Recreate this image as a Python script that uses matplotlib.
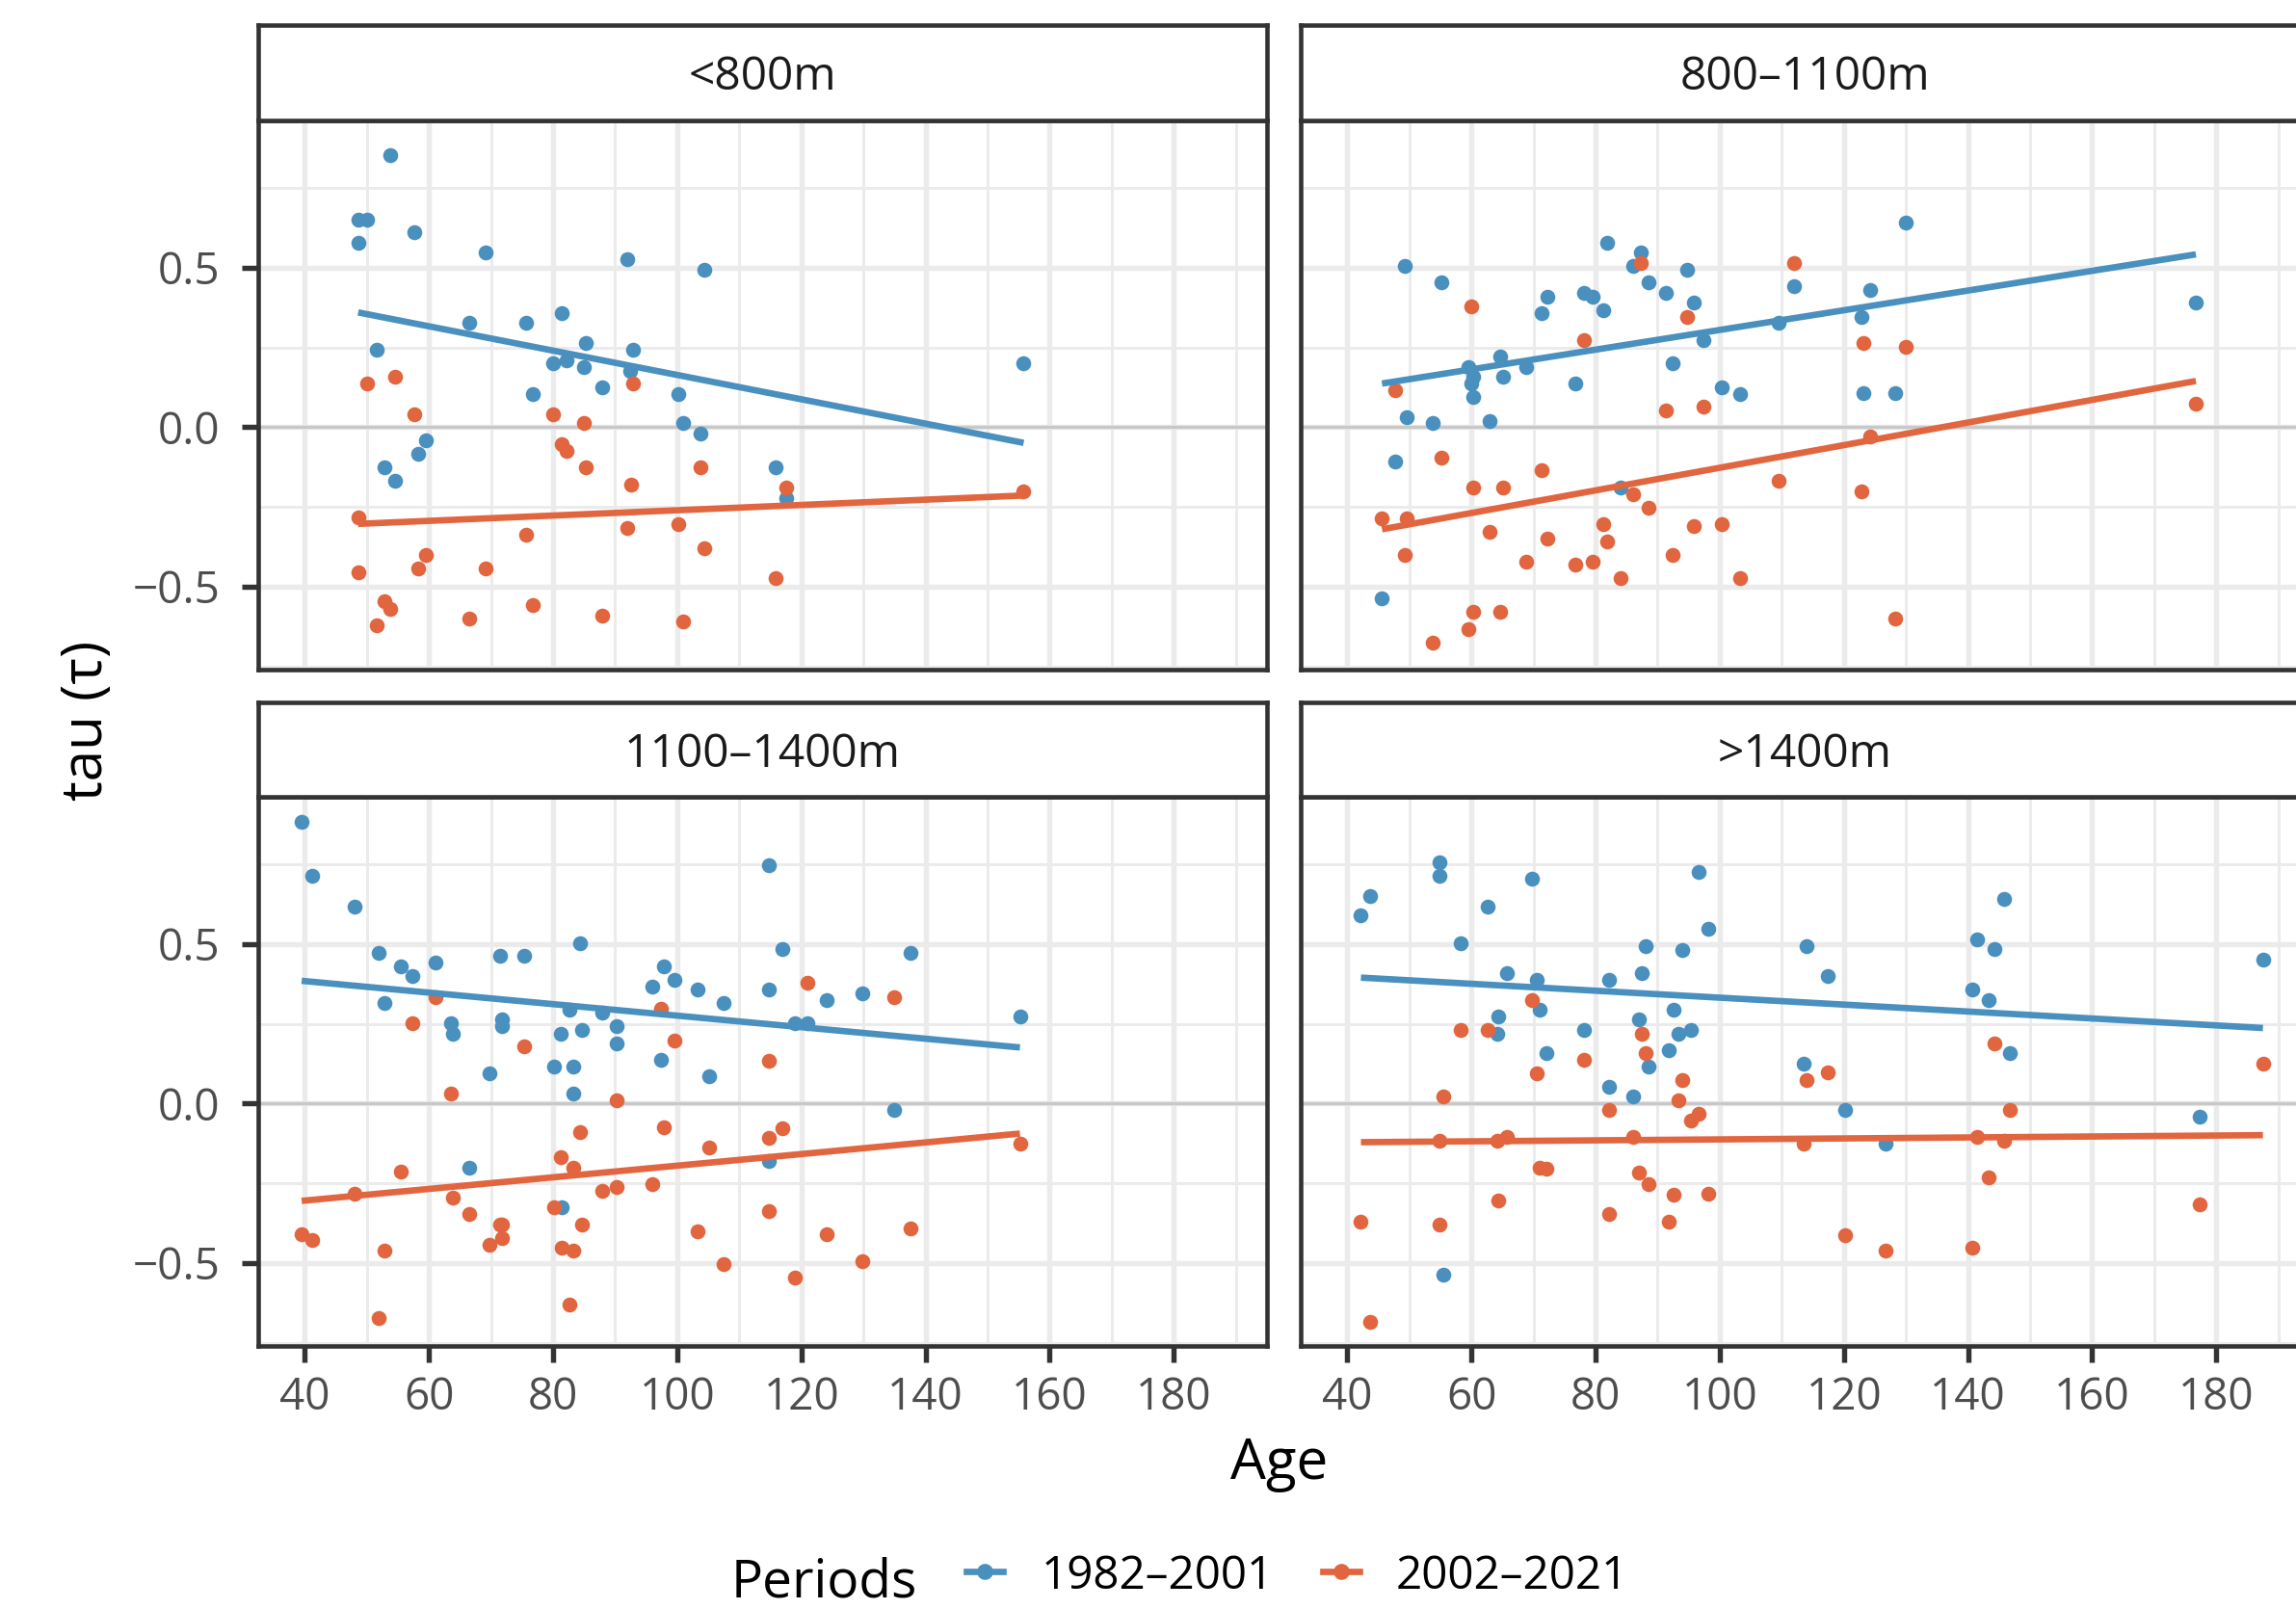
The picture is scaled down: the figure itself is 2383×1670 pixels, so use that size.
import matplotlib
matplotlib.use("Agg")
import matplotlib.pyplot as plt
from matplotlib.lines import Line2D
from matplotlib.ticker import FixedLocator
import numpy as np

plt.rcParams['font.family'] = ['Open Sans', 'DejaVu Sans']
plt.rcParams['axes.unicode_minus'] = True

# ---- data ----
panels = ["<800m", "800–1100m", "1100–1400m", ">1400m"]
periods = ["1982–2001", "2002–2021"]
colors = ["#4A90BF", "#E1663F"]

# <800m
age_a1 = [53.8, 48.6, 50.0, 48.6, 57.7, 69.1, 91.9, 104.3, 66.5, 75.6, 81.4, 51.6, 85.3, 92.9, 80.0,
          82.1, 85.0, 92.4, 76.8, 87.9, 100.2, 101.0, 103.8, 59.5, 58.3, 52.9, 54.5, 115.8, 117.6, 155.8]
tau_a1 = [0.853, 0.652, 0.652, 0.579, 0.611, 0.547, 0.526, 0.494, 0.327, 0.327, 0.358, 0.242, 0.263, 0.242, 0.201,
          0.210, 0.190, 0.178, 0.105, 0.126, 0.105, 0.012, -0.021, -0.042, -0.084, -0.127, -0.169, -0.127, -0.221, 0.201]
age_a2 = [50.0, 54.5, 57.7, 80.0, 85.0, 92.9, 81.4, 82.1, 85.3, 103.8, 92.5, 48.6, 75.6, 91.9, 100.2,
          104.3, 48.6, 59.5, 58.3, 69.1, 52.9, 53.8, 51.6, 66.5, 76.8, 87.9, 101.0, 115.8, 117.6, 155.8]
tau_a2 = [0.137, 0.157, 0.042, 0.042, 0.012, 0.137, -0.052, -0.075, -0.127, -0.127, -0.179, -0.284, -0.338, -0.317, -0.305,
          -0.379, -0.454, -0.401, -0.443, -0.443, -0.547, -0.570, -0.621, -0.600, -0.559, -0.590, -0.610, -0.474, -0.190, -0.200]

# 800-1100m
age_b1 = [81.8, 87.3, 86.0, 49.3, 94.8, 55.2, 88.5, 91.3, 78.2, 79.6, 72.3, 95.9, 81.2, 71.3, 112.0, 109.5, 97.3,
          64.7, 59.5, 68.8, 60.3, 65.1, 59.9, 92.4, 76.8, 60.3, 100.4, 103.3, 49.6, 53.8, 62.9, 47.7, 84.0, 45.6,
          130.0, 124.3, 122.8, 176.7, 123.2, 128.3]
tau_b1 = [0.579, 0.547, 0.505, 0.505, 0.494, 0.453, 0.453, 0.421, 0.421, 0.410, 0.410, 0.390, 0.368, 0.358, 0.441, 0.327, 0.274,
          0.221, 0.190, 0.190, 0.157, 0.157, 0.137, 0.201, 0.137, 0.094, 0.126, 0.105, 0.031, 0.012, 0.020, -0.106, -0.190, -0.537,
          0.642, 0.430, 0.347, 0.390, 0.106, 0.106]
age_b2 = [87.3, 112.0, 59.9, 94.8, 78.2, 47.7, 91.3, 97.3, 55.2, 71.3, 60.3, 65.1, 86.0, 88.5, 109.5, 45.6, 49.6,
          81.2, 95.9, 100.4, 62.9, 72.3, 81.8, 49.3, 68.8, 76.8, 79.6, 92.4, 84.0, 103.3, 60.3, 64.7, 59.5, 53.8,
          123.2, 130.0, 176.7, 124.3, 122.8, 128.3]
tau_b2 = [0.516, 0.516, 0.379, 0.347, 0.273, 0.116, 0.052, 0.064, -0.095, -0.136, -0.190, -0.190, -0.211, -0.251, -0.168, -0.287, -0.287,
          -0.305, -0.311, -0.305, -0.327, -0.348, -0.358, -0.400, -0.421, -0.431, -0.421, -0.400, -0.474, -0.474, -0.579, -0.579, -0.632, -0.674,
          0.263, 0.252, 0.074, -0.028, -0.201, -0.600]

# 1100-1400m
age_c1 = [39.5, 41.2, 48.0, 84.4, 51.9, 71.4, 75.3, 55.4, 61.1, 57.3, 97.8, 99.5, 96.0, 103.2, 114.7, 114.7, 107.5,
          52.8, 82.7, 87.9, 63.6, 63.8, 71.8, 71.8, 81.3, 84.6, 90.2, 90.3, 97.3, 69.7, 80.1, 83.2, 105.1, 83.2,
          66.5, 81.4, 114.7, 116.9, 137.5, 124.1, 129.8, 118.9, 121.0, 155.2, 134.9]
tau_c1 = [0.883, 0.714, 0.619, 0.504, 0.473, 0.463, 0.463, 0.431, 0.442, 0.400, 0.431, 0.389, 0.367, 0.357, 0.746, 0.357, 0.315,
          0.315, 0.295, 0.285, 0.253, 0.220, 0.264, 0.242, 0.220, 0.232, 0.242, 0.188, 0.137, 0.095, 0.116, 0.116, 0.085, 0.031,
          -0.200, -0.325, -0.180, 0.484, 0.473, 0.325, 0.346, 0.253, 0.253, 0.274, -0.021]
age_c2 = [61.1, 57.3, 75.3, 97.3, 99.5, 114.7, 63.6, 90.2, 84.4, 97.8, 114.7, 105.1, 81.3, 83.2, 55.4, 48.0, 63.8,
          87.9, 90.3, 96.0, 80.1, 66.5, 71.4, 71.8, 71.8, 69.7, 84.6, 114.7, 103.2, 39.5, 41.2, 52.8, 81.4, 83.2,
          107.5, 82.7, 51.9, 116.9, 121.0, 134.9, 155.2, 124.1, 137.5, 129.8, 118.9]
tau_c2 = [0.335, 0.252, 0.180, 0.296, 0.199, 0.135, 0.031, 0.011, -0.089, -0.073, -0.106, -0.137, -0.169, -0.200, -0.212, -0.284, -0.295,
          -0.274, -0.263, -0.253, -0.326, -0.347, -0.379, -0.379, -0.421, -0.442, -0.379, -0.336, -0.400, -0.410, -0.428, -0.462, -0.452, -0.462,
          -0.503, -0.630, -0.673, -0.076, 0.379, 0.335, -0.127, -0.410, -0.390, -0.494, -0.547]

# >1400m
age_d1 = [54.9, 54.9, 43.7, 42.2, 69.8, 62.6, 96.6, 98.1, 58.2, 88.1, 93.9, 65.7, 70.5, 82.1, 87.5, 64.3, 71.0,
          92.5, 64.1, 78.2, 87.0, 93.4, 95.3, 72.1, 91.8, 88.6, 82.2, 86.0, 55.4, 145.8, 141.5, 144.2, 114.0,
          117.4, 140.7, 143.3, 187.5, 113.5, 146.7, 120.2, 177.3, 126.7]
tau_d1 = [0.757, 0.714, 0.651, 0.589, 0.704, 0.619, 0.725, 0.547, 0.504, 0.494, 0.483, 0.410, 0.389, 0.389, 0.410, 0.274, 0.294,
          0.294, 0.220, 0.232, 0.263, 0.220, 0.232, 0.157, 0.168, 0.116, 0.053, 0.022, -0.537, 0.641, 0.516, 0.484, 0.494,
          0.400, 0.357, 0.325, 0.452, 0.126, 0.157, -0.021, -0.042, -0.127]
age_d2 = [69.8, 58.2, 62.6, 87.5, 88.1, 78.2, 70.5, 93.9, 55.4, 93.4, 82.1, 96.6, 95.3, 54.9, 64.1, 65.7, 86.0,
          71.0, 72.1, 87.0, 88.6, 64.3, 92.5, 98.1, 42.2, 54.9, 82.2, 91.8, 43.7, 144.2, 187.5, 114.0, 117.4,
          146.7, 113.5, 141.5, 145.8, 143.3, 177.3, 120.2, 126.7, 140.7]
tau_d2 = [0.325, 0.232, 0.232, 0.220, 0.157, 0.136, 0.095, 0.073, 0.022, 0.011, -0.021, -0.031, -0.052, -0.116, -0.116, -0.105, -0.105,
          -0.200, -0.205, -0.216, -0.253, -0.305, -0.286, -0.284, -0.369, -0.379, -0.347, -0.369, -0.684, 0.188, 0.126, 0.073, 0.099,
          -0.021, -0.127, -0.105, -0.116, -0.232, -0.316, -0.414, -0.462, -0.452]

# fitted linear trend (value at youngest, value at oldest stand) per panel and period
fit_p1 = [(0.360, -0.049), (0.137, 0.542), (0.385, 0.176), (0.395, 0.237)]
fit_p2 = [(-0.303, -0.214), (-0.320, 0.145), (-0.305, -0.094), (-0.121, -0.099)]

ages = [(age_a1, age_a2), (age_b1, age_b2), (age_c1, age_c2), (age_d1, age_d2)]
taus = [(tau_a1, tau_a2), (tau_b1, tau_b2), (tau_c1, tau_c2), (tau_d1, tau_d2)]
fits = [(fit_p1[i], fit_p2[i]) for i in range(4)]

x_ticks = [40, 60, 80, 100, 120, 140, 160, 180]
y_ticks = [-0.5, 0.0, 0.5]

# ---- layout in pixels ----
W, H = 2383, 1670
fig = plt.figure(figsize=(W / 300, H / 300), dpi=300)


def rect(left, top, right, bottom):
    return [left / W, 1 - bottom / H, (right - left) / W, (bottom - top) / H]


cols = [(268, 1315), (1350, 2397)]
rows = [(26, 125, 695), (729, 827, 1397)]
border = "#333333"

for i, name in enumerate(panels):
    r, c = divmod(i, 2)
    left, right = cols[c]
    stop, ptop, pbot = rows[r]

    ax = fig.add_axes(rect(left, ptop, right, pbot))
    ax.set_xlim(32.5, 195.0)
    ax.set_ylim(-0.76, 0.962)
    ax.set_facecolor("white")
    ax.xaxis.set_major_locator(FixedLocator(x_ticks))
    ax.xaxis.set_minor_locator(FixedLocator(np.arange(50, 200, 20)))
    ax.yaxis.set_major_locator(FixedLocator(y_ticks))
    ax.yaxis.set_minor_locator(FixedLocator([-0.75, -0.25, 0.25, 0.75]))
    ax.grid(which="major", color="#EBEBEB", lw=1.3, zorder=0)
    ax.grid(which="minor", color="#EBEBEB", lw=0.7, zorder=0)
    ax.set_axisbelow(True)
    ax.axhline(0, color="#C8C8C8", lw=0.8, zorder=1)

    for k in range(2):
        ax.scatter(ages[i][k], taus[i][k], s=14, color=colors[k], linewidths=0, zorder=3 + k)
    for k in range(2):
        a = np.array(ages[i][k])
        ax.plot([a.min(), a.max()], fits[i][k], color=colors[k], lw=1.6, zorder=5, solid_capstyle="butt")

    for s in ax.spines.values():
        s.set_color(border)
        s.set_linewidth(1.1)
    ax.tick_params(which="major", length=4, width=1.3, color=border, pad=5.5,
                   labelsize=11, labelcolor="#4D4D4D")
    ax.tick_params(axis="x", which="major", pad=3.5)
    ax.tick_params(which="minor", length=0)
    if r == 0:
        ax.tick_params(bottom=False, labelbottom=False)
    if c == 1:
        ax.tick_params(left=False, labelleft=False)

    sax = fig.add_axes(rect(left, stop, right, ptop))
    sax.set_xticks([])
    sax.set_yticks([])
    sax.set_facecolor("white")
    for s in sax.spines.values():
        s.set_color(border)
        s.set_linewidth(1.1)
    sax.text(0.5, 0.45, name, ha="center", va="center", fontsize=11.5, color="#1A1A1A",
             transform=sax.transAxes)

# axis titles
fig.text(1328 / W, 1 - 1535 / H, "Age", ha="center", va="baseline", fontsize=14)
fig.text(91 / W, 1 - 748 / H, "tau (τ)", ha="center", va="center", rotation=90, fontsize=14)

# legend at bottom
fig.text(759 / W, 1 - 1657 / H, "Periods", ha="left", va="baseline", fontsize=13.2)
key_y = 1 - 1631 / H
for (x0, x1, xl), col, lab in zip([(1003, 1041, 1081), (1373, 1411, 1449)], colors, periods):
    fig.add_artist(Line2D([x0 / W, x1 / W], [key_y, key_y], color=col, lw=1.6,
                          transform=fig.transFigure))
    fig.add_artist(Line2D([(x0 + x1) / 2 / W], [key_y], color=col, marker="o", ms=4,
                          mew=0, transform=fig.transFigure))
    fig.text(xl / W, 1 - 1649 / H, lab, ha="left", va="baseline", fontsize=11.4)

fig.savefig("out.png", dpi=300, facecolor="white")
